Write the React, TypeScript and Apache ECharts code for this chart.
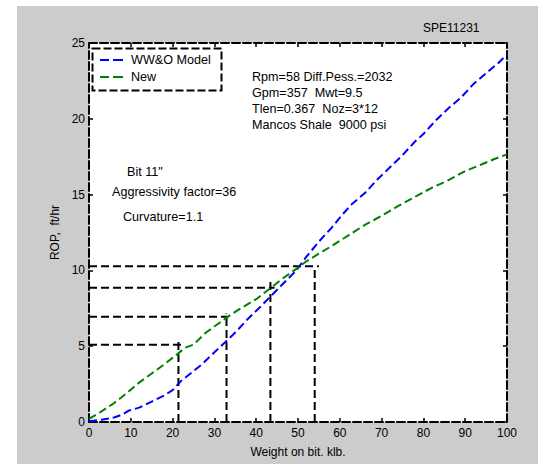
import React, { useEffect, useRef } from "react";
import * as echarts from "echarts";

// WW&O Model curve (x = weight on bit, klb ; y = ROP, ft/hr)
const wwoX = [0, 3, 6, 8, 9.5, 12, 15, 18, 20, 22, 24.5, 27, 30, 32.5, 35, 38, 41, 43.5, 46, 49.6, 52, 55, 58, 61, 63, 66, 69, 72, 75, 78, 80, 83, 86, 89, 92, 95, 98, 100];
const wwoY = [0.05, 0.15, 0.3, 0.5, 0.75, 0.95, 1.35, 1.75, 2.1, 2.7, 3.25, 3.8, 4.6, 5.25, 5.9, 6.8, 7.6, 8.3, 9.0, 10.0, 10.9, 11.9, 12.8, 13.8, 14.4, 15.1, 16.0, 16.8, 17.6, 18.5, 19.0, 19.9, 20.7, 21.4, 22.3, 23.0, 23.7, 24.25];

// New model curve
const newX = [0, 3, 6, 9, 12, 15, 18, 21, 23, 25, 28, 31, 33, 36, 40, 43.5, 46, 49.6, 52, 55, 58, 62, 66, 70, 74, 78, 82, 86, 90, 94, 97, 100];
const newY = [0.2, 0.7, 1.25, 1.9, 2.6, 3.2, 3.8, 4.45, 4.9, 5.1, 5.9, 6.5, 6.9, 7.45, 8.1, 8.85, 9.4, 10.1, 10.6, 11.1, 11.6, 12.3, 13.0, 13.6, 14.25, 14.85, 15.45, 15.95, 16.55, 17.0, 17.35, 17.65];

// Reference drop lines
const refX = [21.4, 32.9, 43.4, 54.0];
const refY = [5.1, 6.95, 8.85, 10.27];
const refHEnd = [22.4, 33.3, 44.4, 55.0];
const refVTop = [5.28, 7.15, 9.28, 10.27];

const seriesNames = ["WW&O Model", "New"];
const xAxisName = "Weight on bit. klb.";
const yAxisName = "ROP,  ft/hr";
const figTitle = "SPE11231";
const notesRight = ["Rpm=58 Diff.Pess.=2032", "Gpm=357  Mwt=9.5", "Tlen=0.367  Noz=3*12", "Mancos Shale  9000 psi"];
const notesLeft = ['Bit 11"', "Aggressivity factor=36", "Curvature=1.1"];

const FONT = '"Liberation Sans", Arial, sans-serif';
const DASH = [8, 4];

export default function App() {
  const ref = useRef<HTMLDivElement>(null);
  useEffect(() => {
    if (!ref.current) return;
    const chart = echarts.init(ref.current, undefined, { renderer: "svg" });

    const refSeries: any[] = [];
    refX.forEach((x, i) => {
      refSeries.push({
        type: "line", silent: true, symbol: "none", z: 1,
        data: [[0, refY[i]], [refHEnd[i], refY[i]]],
        lineStyle: { color: "#000", width: 2, type: DASH },
      });
      refSeries.push({
        type: "line", silent: true, symbol: "none", z: 1,
        data: [[x, 0], [x, refVTop[i]]],
        lineStyle: { color: "#000", width: 2, type: DASH },
      });
    });

    const axisLine = { show: true, onZero: false, lineStyle: { color: "#000", width: 2, type: [8, 3] } };
    const axisTick = { show: true, inside: true, length: 4, lineStyle: { color: "#000", width: 1.5 } };
    const label = { color: "#000", fontSize: 12, fontFamily: FONT };

    const texts: any[] = [];
    notesRight.forEach((t, i) => {
      texts.push({ type: "text", x: 252, y: 77 + i * 16, style: { text: t, fill: "#000", font: `12.6px ${FONT}`, align: "left", verticalAlign: "middle" } });
    });
    const leftPos = [[127, 172], [112, 192], [123, 217]];
    notesLeft.forEach((t, i) => {
      texts.push({ type: "text", x: leftPos[i][0], y: leftPos[i][1], style: { text: t, fill: "#000", font: `12.6px ${FONT}`, align: "left", verticalAlign: "middle" } });
    });

    chart.setOption({
      animation: false,
      backgroundColor: "transparent",
      title: {
        text: figTitle, left: 423, top: 22, padding: 0,
        textStyle: { fontSize: 12, fontWeight: "normal", color: "#000", fontFamily: FONT },
      },
      legend: {
        data: seriesNames,
        orient: "vertical",
        left: 100, top: 53, padding: 0, itemGap: 3,
        itemWidth: 23, itemHeight: 2,
        icon: "path://M0,0H9V2H0Z M13,0H23V2H13Z",
        textStyle: { fontSize: 12.6, color: "#000", fontFamily: FONT, lineHeight: 14, padding: [0, 0, 0, 3] },
        selectedMode: false,
      },
      grid: { left: 89, right: 44, top: 43, bottom: 42, show: true, backgroundColor: "#fff", borderWidth: 0 },
      xAxis: [
        {
          type: "value", min: 0, max: 100, interval: 10, position: "bottom",
          name: xAxisName, nameLocation: "middle", nameGap: 24,
          nameTextStyle: { color: "#000", fontSize: 12, fontFamily: FONT },
          axisLine, axisTick, splitLine: { show: false },
          axisLabel: { ...label, margin: 5 },
        },
        {
          type: "value", min: 0, max: 100, interval: 10, position: "top",
          axisLine, axisTick, splitLine: { show: false }, axisLabel: { show: false },
        },
      ],
      yAxis: [
        {
          type: "value", min: 0, max: 25, interval: 5, position: "left",
          name: yAxisName, nameLocation: "middle", nameGap: 25,
          nameTextStyle: { color: "#000", fontSize: 12, fontFamily: FONT },
          axisLine, axisTick, splitLine: { show: false },
          axisLabel: { ...label, margin: 4 },
        },
        {
          type: "value", min: 0, max: 25, interval: 5, position: "right",
          axisLine, axisTick, splitLine: { show: false }, axisLabel: { show: false },
        },
      ],
      series: [
        ...refSeries,
        {
          name: seriesNames[0], type: "line", symbol: "none", z: 3,
          data: wwoX.map((x, i) => [x, wwoY[i]]),
          itemStyle: { color: "#0000ff" },
          lineStyle: { color: "#0000ff", width: 2, type: DASH },
        },
        {
          name: seriesNames[1], type: "line", symbol: "none", z: 3,
          data: newX.map((x, i) => [x, newY[i]]),
          itemStyle: { color: "#008000" },
          lineStyle: { color: "#008000", width: 2, type: DASH },
        },
      ],
      graphic: [
        {
          type: "rect", z: 10,
          shape: { x: 92.5, y: 48.5, width: 129, height: 42 },
          style: { fill: "none", stroke: "#000", lineWidth: 2, lineDash: [8, 3] },
        },
        ...texts,
      ],
    });
    return () => chart.dispose();
  }, []);

  return (
    <div style={{ position: "absolute", left: 0, top: 0, width: 551, height: 464, background: "#fff" }}>
      <div style={{ position: "absolute", left: 17, top: 6, width: 521, height: 458, background: "#cccccc" }} />
      <div ref={ref} style={{ position: "absolute", left: 0, top: 0, width: 551, height: 464 }} />
    </div>
  );
}
